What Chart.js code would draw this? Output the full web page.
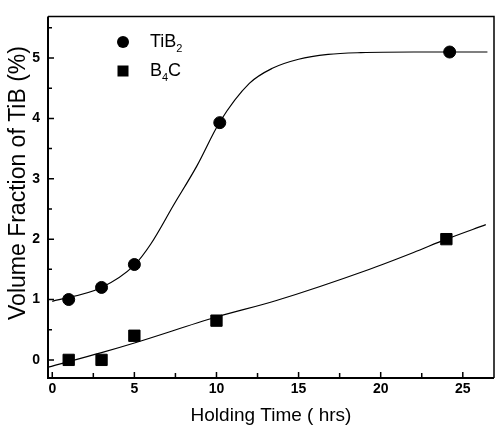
<!DOCTYPE html>
<html><head><meta charset="utf-8">
<script src="https://cdn.jsdelivr.net/npm/chart.js@4/dist/chart.umd.min.js"></script>
<style>html,body{margin:0;padding:0;background:#fff}#wrap{width:503px;height:435px;position:relative}</style>
</head><body><div id="wrap"><canvas id="c"></canvas></div>
<script>
// Measured points
const tib2Time = [1, 3, 5, 10.2, 24.2];
const tib2Frac = [1.0, 1.2, 1.58, 3.93, 5.1];
const b4cTime = [1, 3, 5, 10, 24];
const b4cFrac = [0.0, 0.0, 0.4, 0.65, 2.0];
// Fitted curves
const tib2FitTime = [0, 3, 5, 6, 7.4, 8.8, 10.2, 12, 13.4, 15, 16.8, 18.8, 22, 26.5];
const tib2FitFrac = [0.97, 1.2, 1.57, 1.92, 2.57, 3.21, 3.94, 4.58, 4.83, 4.98, 5.06, 5.09, 5.1, 5.1];
const b4cFitTime = [-0.25, 3, 5, 10, 13.6, 19.2, 22, 24, 26.4];
const b4cFitFrac = [-0.12, 0.12, 0.28, 0.71, 0.98, 1.49, 1.78, 2.0, 2.24];
// Ticks
const xTicks = [0, 5, 10, 15, 20, 25];
const xMinorTicks = [2.5, 7.5, 12.5, 17.5, 22.5];
const yTicks = [0, 1, 2, 3, 4, 5];
const yMinorTicks = [0.5, 1.5, 2.5, 3.5, 4.5, 5.5];
// Legend text parts: base, subscript, tail
const legendParts = [['TiB', '2', ''], ['B', '4', 'C']];
const xTitle = 'Holding Time ( hrs)';
const yTitle = 'Volume Fraction of TiB (%)';

const pts = (xs, ys) => xs.map((x, i) => ({x, y: ys[i]}));

const decor = {
  id: 'decor',
  afterDraw(chart) {
    const {ctx, chartArea: a, scales: {x, y}} = chart;
    ctx.save();
    ctx.strokeStyle = '#000';
    // frame
    ctx.lineWidth = 2;
    ctx.beginPath();
    ctx.moveTo(a.left, a.top); ctx.lineTo(a.left, a.bottom); ctx.lineTo(a.right, a.bottom);
    ctx.stroke();
    ctx.lineWidth = 1.5;
    ctx.beginPath();
    ctx.moveTo(a.left, a.top); ctx.lineTo(a.right, a.top); ctx.lineTo(a.right, a.bottom);
    ctx.stroke();
    // ticks
    ctx.lineWidth = 1.5;
    ctx.beginPath();
    yTicks.forEach(v => { const p = y.getPixelForValue(v); ctx.moveTo(a.left, p); ctx.lineTo(a.left + 6, p); });
    yMinorTicks.forEach(v => { const p = y.getPixelForValue(v); ctx.moveTo(a.left, p); ctx.lineTo(a.left + 4, p); });
    xTicks.forEach(v => { const p = x.getPixelForValue(v); ctx.moveTo(p, a.bottom); ctx.lineTo(p, a.bottom - 6); });
    xMinorTicks.forEach(v => { const p = x.getPixelForValue(v); ctx.moveTo(p, a.bottom); ctx.lineTo(p, a.bottom - 5); });
    ctx.stroke();
    // y title
    ctx.fillStyle = '#000';
    ctx.font = '23px "Liberation Sans", Arial, sans-serif';
    ctx.textAlign = 'center';
    ctx.textBaseline = 'middle';
    ctx.translate(19, 183);
    ctx.rotate(-Math.PI / 2);
    ctx.fillText(yTitle, 0, 0);
    ctx.restore();
    // legend
    ctx.save();
    ctx.fillStyle = '#000';
    const lx = 123, ly = [42, 71];
    ctx.beginPath(); ctx.arc(lx, ly[0], 6, 0, Math.PI * 2); ctx.fill();
    ctx.fillRect(lx - 5.5, ly[1] - 5.5, 11, 11);
    legendParts.forEach((parts, i) => {
      let tx = 150;
      ctx.textBaseline = 'middle';
      ctx.textAlign = 'left';
      ctx.font = '18px "Liberation Sans", Arial, sans-serif';
      ctx.fillText(parts[0], tx, ly[i]);
      tx += ctx.measureText(parts[0]).width;
      ctx.font = '11px "Liberation Sans", Arial, sans-serif';
      ctx.fillText(parts[1], tx, ly[i] + 7);
      tx += ctx.measureText(parts[1]).width;
      ctx.font = '18px "Liberation Sans", Arial, sans-serif';
      ctx.fillText(parts[2], tx, ly[i]);
    });
    ctx.restore();
  }
};

new Chart(document.getElementById('c'), {
  type: 'scatter',
  data: {
    datasets: [
      {label: 'TiB\u2082 fit', data: pts(tib2FitTime, tib2FitFrac), showLine: true, pointRadius: 0,
       borderColor: '#000', borderWidth: 1.2, cubicInterpolationMode: 'monotone', fill: false},
      {label: 'B\u2084C fit', data: pts(b4cFitTime, b4cFitFrac), showLine: true, pointRadius: 0,
       borderColor: '#000', borderWidth: 1.2, cubicInterpolationMode: 'monotone', fill: false},
      {label: 'TiB\u2082', data: pts(tib2Time, tib2Frac), pointStyle: 'circle', pointRadius: 6,
       backgroundColor: '#000', borderColor: '#000', borderWidth: 1},
      {label: 'B\u2084C', data: pts(b4cTime, b4cFrac), pointStyle: 'rect', pointRadius: 8,
       backgroundColor: '#000', borderColor: '#000', borderWidth: 1}
    ]
  },
  options: {
    responsive: true, maintainAspectRatio: false, animation: false,
    layout: {padding: {top: 6, right: 1, left: 0, bottom: 0}},
    plugins: {legend: {display: false}, tooltip: {enabled: false}},
    scales: {
      x: {
        type: 'linear', min: -0.26, max: 26.9,
        afterBuildTicks: s => { s.ticks = xTicks.map(v => ({value: v})); },
        afterFit: s => { s.height = 57; },
        grid: {display: false, drawTicks: false}, border: {display: false},
        ticks: {color: '#000', padding: 3, font: {family: '"Liberation Sans", Arial, sans-serif', size: 14, weight: 'bold'}},
        title: {display: true, text: xTitle, color: '#000', padding: {top: 0, bottom: 8},
                font: {family: '"Liberation Sans", Arial, sans-serif', size: 19}}
      },
      y: {
        type: 'linear', min: -0.3, max: 5.69,
        afterBuildTicks: s => { s.ticks = yTicks.map(v => ({value: v})); },
        afterFit: s => { s.width = 48; },
        grid: {display: false, drawTicks: false}, border: {display: false},
        ticks: {color: '#000', padding: 8, font: {family: '"Liberation Sans", Arial, sans-serif', size: 14, weight: 'bold'}},
        title: {display: false}
      }
    }
  },
  plugins: [decor]
});
</script>
</body></html>
